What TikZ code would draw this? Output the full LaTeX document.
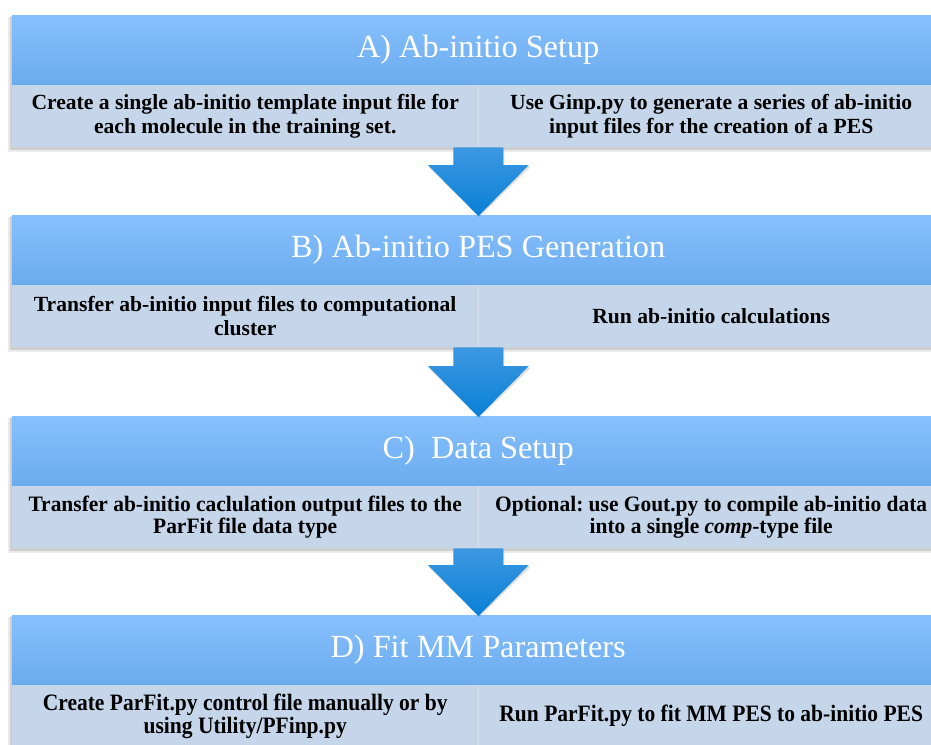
\documentclass[tikz,border=0pt]{standalone}
\usepackage{fontspec}
\setmainfont{Liberation Serif}
\newfontfamily\condfontC[FakeStretch=0.975]{Liberation Serif}
\newfontfamily\condfontD[FakeStretch=0.915]{Liberation Serif}
\usetikzlibrary{calc}
\frenchspacing
\definecolor{hdtop}{HTML}{87C0FE}
\definecolor{hdmid}{HTML}{80BBFB}
\definecolor{hdbot}{HTML}{6AABEE}
\definecolor{subfill}{HTML}{C5D5EA}
\definecolor{divline}{HTML}{D6E1EF}
\definecolor{arrtop}{HTML}{3D98E2}
\definecolor{arrbot}{HTML}{0880D6}
\newcommand\mkpanel[6]{%
  \fill[black,opacity=0.08] (8,#2+2) rectangle (944,#2+137);
  \fill[black,opacity=0.12] (10,#2+1) rectangle (944,#2+135);
  \node[hdr] (h#1) at (12,#2) {#3};
  \node[subbox,#6] (l#1) at (12,#2+70) {#4};
  \node[subbox,#6] (r#1) at (478,#2+70) {#5};
  \draw[divline] (l#1.north east) -- (l#1.south east);
}
\newcommand\flowarrow[2]{%
  \path[fill=black,opacity=0.12] let \p1=(#1.south east), \p2=(#2.north) in
    (\x1-24pt,\y1-2pt) -- (\x1+26pt,\y1-2pt) -- (\x1+26pt,\y2+48pt) -- (\x1+52pt,\y2+48pt)
    -- (\x1+1pt,\y2-2pt) -- (\x1-50pt,\y2+48pt) -- (\x1-24pt,\y2+48pt) -- cycle;
  \path[bigarrow] let \p1=(#1.south east), \p2=(#2.north) in
    (\x1-25pt,\y1) -- (\x1+25pt,\y1) -- (\x1+25pt,\y2+50pt) -- (\x1+50.5pt,\y2+50pt)
    -- (\x1,\y2-1pt) -- (\x1-50.5pt,\y2+50pt) -- (\x1-25pt,\y2+50pt) -- cycle;
}
\begin{document}
\begin{tikzpicture}[x=1pt,y=-1pt,
  hdr/.style={anchor=north west, minimum width=932pt, minimum height=70pt, inner sep=0pt,
    top color=hdtop, middle color=hdmid, bottom color=hdbot, text=white,
    font=\fontsize{32.3}{36}\selectfont},
  subbox/.style={anchor=north west, minimum width=466pt, minimum height=62pt, inner sep=0pt,
    fill=subfill, align=center, text=black, font=\fontsize{21.6}{23.5}\selectfont\bfseries},
  subC/.style={font=\condfontC\fontsize{22}{22}\selectfont\bfseries},
  subD/.style={font=\condfontD\fontsize{23.5}{23.5}\selectfont\bfseries},
  divline/.style={draw=divline, line width=1pt},
  bigarrow/.style={top color=arrtop, bottom color=arrbot}
]
\useasboundingbox (0,0) rectangle (931,744);
\fill[white] (0,0) rectangle (931,744);
\clip (0,0) rectangle (931,744);

\mkpanel{A}{15}{A) Ab-initio Setup}
  {Create a single ab-initio template input file for\\each molecule in the training set.}
  {Use Ginp.py to generate a series of ab-initio\\input files for the creation of a PES}{}
\mkpanel{B}{215}{B) Ab-initio PES Generation}
  {Transfer ab-initio input files to computational\\cluster}
  {Run ab-initio calculations}{}
\mkpanel{C}{416}{C)\ \ Data Setup}
  {Transfer ab-initio caclulation output files to the\\ParFit file data type}
  {Optional: use Gout.py to compile ab-initio data\\into a single \textit{comp}-type file}{subC}
\mkpanel{D}{615}{D) Fit MM Parameters}
  {Create ParFit.py control file manually or by\\using Utility/PFinp.py}
  {Run ParFit.py to fit MM PES to ab-initio PES}{subD}

\flowarrow{lA}{hB}
\flowarrow{lB}{hC}
\flowarrow{lC}{hD}
\end{tikzpicture}
\end{document}
